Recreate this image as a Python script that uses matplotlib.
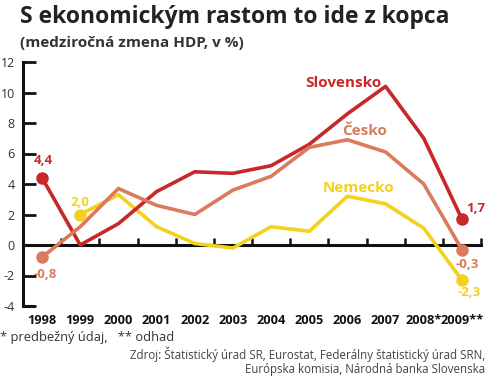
import matplotlib
matplotlib.use("Agg")
import matplotlib.pyplot as plt
import numpy as np

plt.rcParams['font.family'] = ['Open Sans', 'DejaVu Sans']

years = [1998, 1999, 2000, 2001, 2002, 2003, 2004, 2005, 2006, 2007, 2008, 2009]
year_labels = ['1998', '1999', '2000', '2001', '2002', '2003', '2004', '2005',
               '2006', '2007', '2008*', '2009**']
slovensko = [4.4, 0.0, 1.4, 3.5, 4.8, 4.7, 5.2, 6.6, 8.6, 10.4, 7.0, 1.7]
cesko = [-0.8, 1.2, 3.7, 2.6, 2.0, 3.6, 4.5, 6.4, 6.9, 6.1, 4.0, -0.3]
nemecko_years = [1999, 2000, 2001, 2002, 2003, 2004, 2005, 2006, 2007, 2008, 2009]
nemecko = [2.0, 3.3, 1.2, 0.1, -0.2, 1.2, 0.9, 3.2, 2.7, 1.1, -2.3]
yticks = [-4, -2, 0, 2, 4, 6, 8, 10, 12]

c_sk = '#c8282a'
c_cz = '#dc7a5c'
c_de = '#f2d21c'

fig = plt.figure(figsize=(4.9, 3.8), dpi=100)
ax = fig.add_axes([23/490, 1-306/380, (481-23)/490, (306-62)/380])
ax.set_xlim(1997.5, 2009.5)
ax.set_ylim(-4, 12)

lw = 2.6
ax.plot(nemecko_years, nemecko, color=c_de, lw=lw, zorder=3, solid_joinstyle='round')
ax.plot(years, slovensko, color=c_sk, lw=lw, zorder=4, solid_joinstyle='round')
ax.plot(years, cesko, color=c_cz, lw=lw, zorder=5, solid_joinstyle='round')

ms = 8
ax.plot([years[0], years[-1]], [slovensko[0], slovensko[-1]], 'o', color=c_sk, ms=ms, zorder=6, clip_on=False)
ax.plot([years[0], years[-1]], [cesko[0], cesko[-1]], 'o', color=c_cz, ms=ms, zorder=6, clip_on=False)
ax.plot([nemecko_years[0], nemecko_years[-1]], [nemecko[0], nemecko[-1]], 'o', color=c_de, ms=ms, zorder=6, clip_on=False)

def fmt(v):
    return ('%.1f' % v).replace('.', ',')

lab_kw = dict(fontsize=9.5, fontweight='bold', zorder=7, clip_on=False)
ax.annotate(fmt(slovensko[0]), (years[0], slovensko[0]), xytext=(1, 8), textcoords='offset points', ha='center', va='bottom', color=c_sk, **lab_kw)
ax.annotate(fmt(cesko[0]), (years[0], cesko[0]), xytext=(2, -8), textcoords='offset points', ha='center', va='top', color=c_cz, **lab_kw)
ax.annotate(fmt(nemecko[0]), (nemecko_years[0], nemecko[0]), xytext=(0, 4), textcoords='offset points', ha='center', va='bottom', color=c_de, **lab_kw)
ax.annotate(fmt(slovensko[-1]), (years[-1], slovensko[-1]), xytext=(3, 3), textcoords='offset points', ha='left', va='bottom', color=c_sk, **lab_kw)
ax.annotate(fmt(cesko[-1]), (years[-1], cesko[-1]), xytext=(4, -6), textcoords='offset points', ha='center', va='top', color=c_cz, **lab_kw)
ax.annotate(fmt(nemecko[-1]), (nemecko_years[-1], nemecko[-1]), xytext=(5, -4), textcoords='offset points', ha='center', va='top', color=c_de, **lab_kw)

ser_kw = dict(fontsize=11, fontweight='bold', ha='center', va='center', zorder=7)
ax.text(2005.9, 10.6, 'Slovensko', color=c_sk, **ser_kw)
ax.text(2006.45, 7.45, 'Česko', color=c_cz, **ser_kw)
ax.text(2006.3, 3.75, 'Nemecko', color=c_de, **ser_kw)

# axes styling
for s in ['top', 'right', 'bottom']:
    ax.spines[s].set_visible(False)
ax.spines['left'].set_linewidth(2.2)
ax.spines['left'].set_color('#111111')
ax.set_yticks(yticks)
ax.set_yticklabels([str(v) for v in yticks], fontsize=9, color='#333333')
ax.tick_params(axis='y', direction='in', length=9, width=2, color='#111111', pad=6)
ax.set_xticks(years)
ax.set_xticklabels(year_labels, fontsize=9.2, fontweight='bold', color='#111111')
ax.tick_params(axis='x', length=0, pad=6)

sec = ax.secondary_xaxis(0.25)
sec.set_xticks(list(np.array(years) + 0.5))
sec.set_xticklabels([])
sec.tick_params(direction='in', length=5, width=1.8, color='#111111')
sec.spines['bottom'].set_linewidth(2.2)
sec.spines['bottom'].set_color('#111111')

ax.plot([1997.5, 1997.78], [-4, -4], color='#111111', lw=2.2, clip_on=False, solid_capstyle='butt')

fig.text(20/490, 1-17/380, 'S ekonomickým rastom to ide z kopca', fontsize=16.5, fontweight='bold', color='#222222', va='center', ha='left')
fig.text(20/490, 1-43/380, '(medziročná zmena HDP, v %)', fontsize=11, fontweight='bold', color='#333333', va='center', ha='left')
fig.text(0/490, 1-337/380, '* predbežný údaj,   ** odhad', fontsize=9.3, color='#333333', va='center', ha='left')
fig.text(485/490, 1-354/380, 'Zdroj: Štatistický úrad SR, Eurostat, Federálny štatistický úrad SRN,', fontsize=8.3, color='#444444', va='center', ha='right')
fig.text(485/490, 1-370/380, 'Európska komisia, Národná banka Slovenska', fontsize=8.3, color='#444444', va='center', ha='right')

fig.savefig('out.png', dpi=100)
